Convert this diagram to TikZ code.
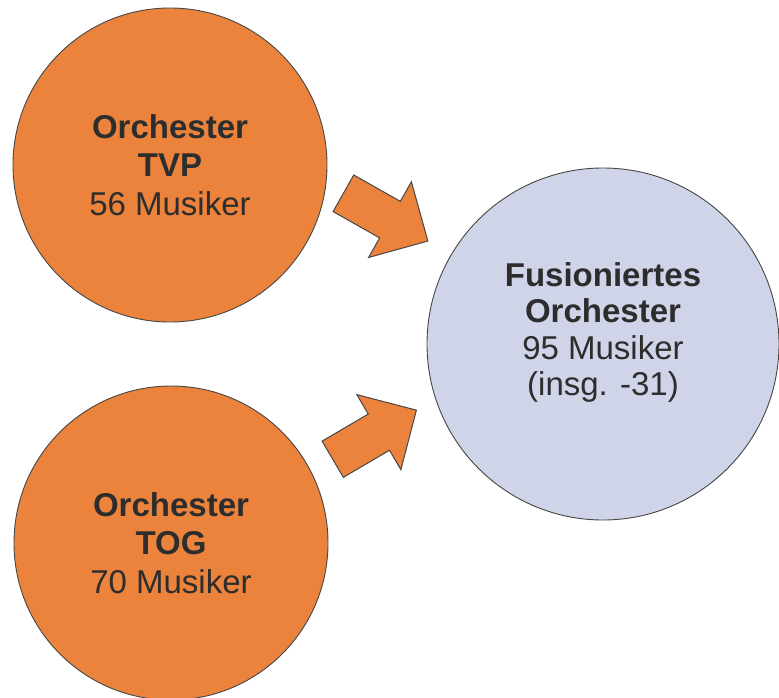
\documentclass[tikz,border=0pt]{standalone}
\usepackage{fontspec}
\setmainfont{Liberation Sans}
\usepackage{xcolor}
\usepackage{tikz}
\usetikzlibrary{shapes.arrows}

\definecolor{orchorange}{RGB}{235,131,60}
\definecolor{fusionblau}{RGB}{208,212,232}
\definecolor{randgrau}{RGB}{70,70,70}
\definecolor{textgrau}{RGB}{45,45,45}

\begin{document}
\begin{tikzpicture}[
      x=1pt, y=-1pt,
      kreis/.style={circle, draw=randgrau, line width=0.9pt, inner sep=0pt,
        align=center, text=textgrau, font=\fontsize{33}{38.5}\selectfont},
      orchester/.style={kreis, fill=orchorange, minimum size=314pt},
      fusion/.style={kreis, fill=fusionblau, minimum size=352pt,
        font=\fontsize{33}{36.5}\selectfont, text depth=30pt},
      pfeil/.style={single arrow, draw=randgrau, line width=1pt, fill=orchorange,
        minimum width=86pt, minimum height=97pt, single arrow head extend=22.5pt,
        single arrow head indent=0pt, inner xsep=0pt, inner ysep=20.5pt}
    ]
      \useasboundingbox[fill=white] (0,0) rectangle (779,698);
      \node[orchester] (tvp) at (170,165) {\textbf{Orchester}\\\textbf{TVP}\\56 Musiker};
      \node[orchester] (tog) at (171,543) {\textbf{Orchester}\\\textbf{TOG}\\70 Musiker};
      \node[fusion] (fus) at (603,344) {\textbf{Fusioniertes}\\\textbf{Orchester}\\95 Musiker\\(insg. -31)};
      % Pfeile
      \node[pfeil, rotate=-29.5] (p1) at (376.5,212) {};
      \node[pfeil, rotate=30.4] (p2) at (365.5,440) {};
    \end{tikzpicture}
\end{document}
